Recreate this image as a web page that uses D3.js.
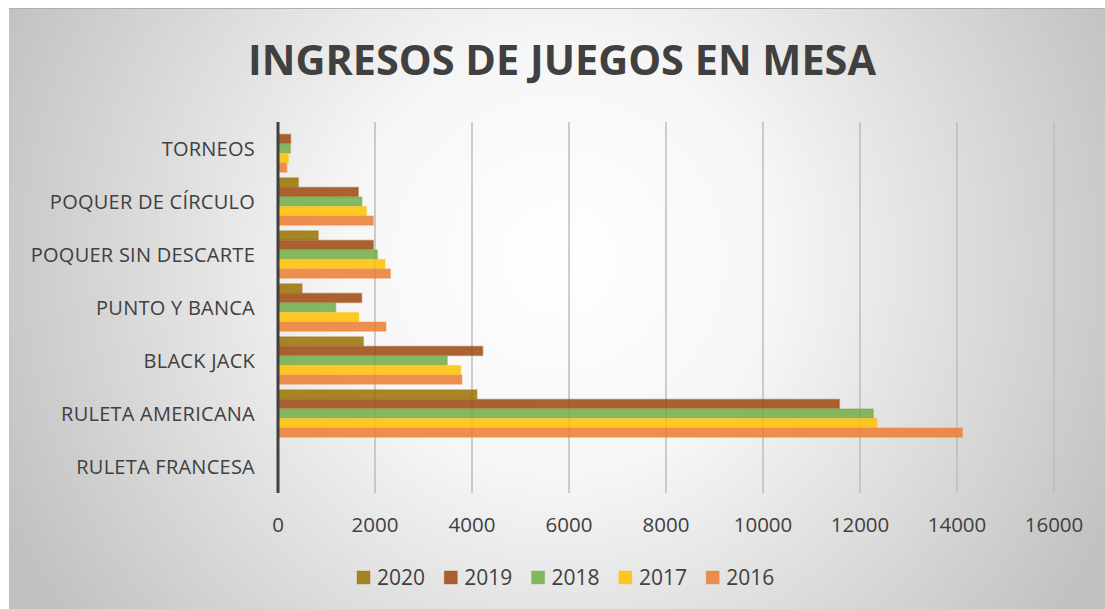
<!DOCTYPE html>
<html>
<head>
<meta charset="utf-8">
<title>Ingresos de juegos en mesa</title>
<style>
  body { margin: 0; background: #fff; }
  text { font-family: "Open Sans", sans-serif; fill: #404040; }
</style>
</head>
<body>
<svg width="1105" height="609" id="chart"></svg>
<script src="https://d3js.org/d3.v7.min.js"></script>
<script>
// categories, top to bottom
var categorias = ["TORNEOS", "POQUER DE CÍRCULO", "POQUER SIN DESCARTE", "PUNTO Y BANCA",
                  "BLACK JACK", "RULETA AMERICANA", "RULETA FRANCESA"];
var anios = ["2020", "2019", "2018", "2017", "2016"];

// values per year, same order as categorias
var v2020 = [0, 420, 830, 495, 1760, 4100, 0];
var v2019 = [260, 1655, 1965, 1725, 4220, 11575, 0];
var v2018 = [255, 1730, 2050, 1190, 3490, 12275, 0];
var v2017 = [215, 1820, 2205, 1665, 3765, 12350, 0];
var v2016 = [180, 1965, 2315, 2225, 3790, 14110, 0];
var ticks = [0, 2000, 4000, 6000, 8000, 10000, 12000, 14000, 16000];

var series = { "2020": v2020, "2019": v2019, "2018": v2018, "2017": v2017, "2016": v2016 };
var colores = { "2020": "#997300", "2019": "#9e480e", "2018": "#70ad47", "2017": "#ffc000", "2016": "#ed7d31" };

var svg = d3.select("#chart");

// background with radial gradient
var defs = svg.append("defs");
var grad = defs.append("radialGradient")
    .attr("id", "bg")
    .attr("gradientUnits", "userSpaceOnUse")
    .attr("cx", 560).attr("cy", 260).attr("r", 620);
grad.append("stop").attr("offset", "0%").attr("stop-color", "#ffffff");
grad.append("stop").attr("offset", "35%").attr("stop-color", "#f6f6f6");
grad.append("stop").attr("offset", "100%").attr("stop-color", "#c0c0c0");

svg.append("rect")
    .attr("x", 9).attr("y", 8)
    .attr("width", 1105).attr("height", 609)
    .attr("fill", "url(#bg)");
svg.append("line")
    .attr("x1", 9).attr("x2", 1105).attr("y1", 8.5).attr("y2", 8.5)
    .attr("stroke", "#b0b0b0").attr("stroke-width", 1);

// title
svg.append("text")
    .attr("x", 562).attr("y", 75)
    .attr("text-anchor", "middle")
    .attr("textLength", 628)
    .attr("lengthAdjust", "spacingAndGlyphs")
    .style("font-size", "42px")
    .style("font-weight", "bold")
    .text("INGRESOS DE JUEGOS EN MESA");

var x = d3.scaleLinear().domain([0, 16000]).range([278, 1054]);
var y = d3.scaleBand().domain(categorias).range([122, 493]).paddingInner(0.09).paddingOuter(0.045);
var y1 = d3.scaleBand().domain(anios).range([0, y.bandwidth()]).padding(0.05);

// gridlines
svg.append("g")
    .selectAll("line")
    .data(ticks.slice(1))
    .enter().append("line")
    .attr("x1", function(d) { return x(d); })
    .attr("x2", function(d) { return x(d); })
    .attr("y1", 122).attr("y2", 493)
    .attr("stroke", "#bcbcbc")
    .attr("stroke-width", 1.5);

// bars
var grupo = svg.append("g")
    .selectAll("g")
    .data(categorias)
    .enter().append("g")
    .attr("transform", function(d) { return "translate(0," + y(d) + ")"; });

grupo.selectAll("rect")
    .data(function(c, i) { return anios.map(function(a) { return { anio: a, valor: series[a][i] }; }); })
    .enter().append("rect")
    .filter(function(d) { return d.valor > 0; })
    .attr("x", x(0))
    .attr("y", function(d) { return y1(d.anio); })
    .attr("width", function(d) { return x(d.valor) - x(0); })
    .attr("height", y1.bandwidth())
    .attr("fill", function(d) { return colores[d.anio]; })
    .attr("fill-opacity", 0.85)
    .attr("stroke", function(d) { return colores[d.anio]; })
    .attr("stroke-opacity", 0.35)
    .attr("stroke-width", 1.5);

// vertical axis line
svg.append("line")
    .attr("x1", x(0)).attr("x2", x(0))
    .attr("y1", 122).attr("y2", 493)
    .attr("stroke", "#404040")
    .attr("stroke-width", 3);

// category labels
svg.append("g")
    .selectAll("text")
    .data(categorias)
    .enter().append("text")
    .attr("x", 255)
    .attr("y", function(d) { return y(d) + y.bandwidth() / 2; })
    .attr("dy", "0.35em")
    .attr("text-anchor", "end")
    .style("font-size", "20px")
    .style("letter-spacing", "0.25px")
    .text(function(d) { return d; });

// tick labels
svg.append("g")
    .selectAll("text")
    .data(ticks)
    .enter().append("text")
    .attr("x", function(d) { return x(d); })
    .attr("y", 532)
    .attr("text-anchor", "middle")
    .style("font-size", "20.5px")
    .text(function(d) { return d; });

// legend
var leyenda = svg.append("g")
    .selectAll("g")
    .data(anios)
    .enter().append("g")
    .attr("transform", function(d, i) { return "translate(" + (357 + i * 87.3) + ",571)"; });

leyenda.append("rect")
    .attr("width", 13).attr("height", 13)
    .attr("fill", function(d) { return colores[d]; })
    .attr("fill-opacity", 0.85)
    .attr("stroke", function(d) { return colores[d]; })
    .attr("stroke-opacity", 0.35);

leyenda.append("text")
    .attr("x", 20).attr("y", 14)
    .style("font-size", "21px")
    .text(function(d) { return d; });
</script>
</body>
</html>
